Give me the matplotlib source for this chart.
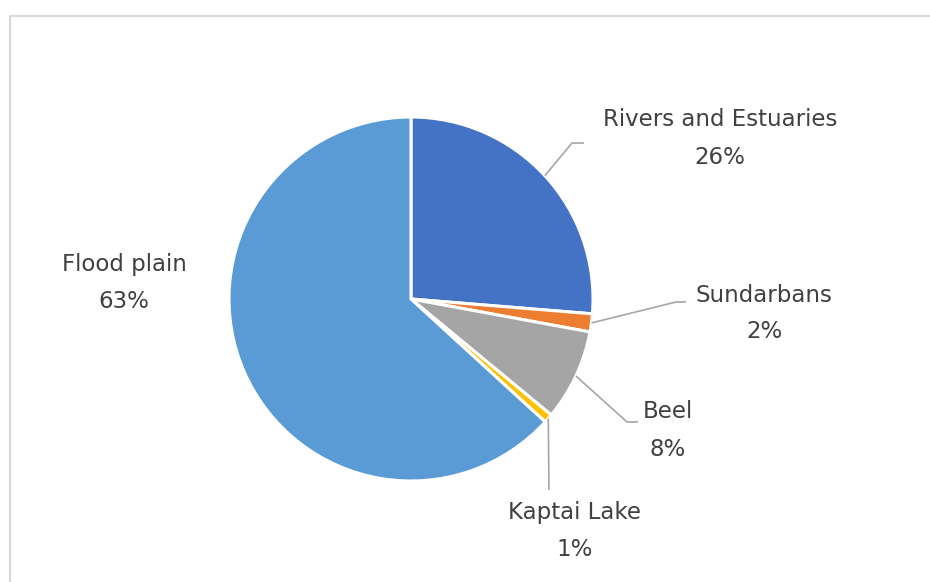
import numpy as np
import matplotlib.pyplot as plt

plt.rcParams['font.family'] = ['DejaVu Sans']

names = ['Rivers and Estuaries', 'Sundarbans', 'Beel', 'Kaptai Lake', 'Flood plain']
shares = [26.3, 1.6, 8.1, 0.8, 63.2]
colors = ['#4472C4', '#ED7D31', '#A5A5A5', '#FFC000', '#5B9BD5']

W, H = 930, 582
cx, cy, R = 411, 299, 182

# label placement in pixel coords (x of text centre, y of first line)
label_pos = [(720, 120), (764, 295), (668, 412), (575, 512), (124, 265)]
# leader line: elbow point and end point (None = no leader)
leaders = [((572, 143), (584, 143)),
           ((676, 302), (686, 302)),
           ((627, 422), (638, 422)),
           ((549, 490), (549, 490)),
           None]

fig = plt.figure(figsize=(W / 100, H / 100), dpi=100)
ax = fig.add_axes([0, 0, 1, 1])

ax.pie(shares, colors=colors, startangle=90, counterclock=False,
       center=(cx, H - cy), radius=R,
       wedgeprops=dict(edgecolor='white', linewidth=2.2), frame=True)
ax.set_xlim(0, W)
ax.set_ylim(0, H)
ax.set_aspect('equal')
ax.axis('off')

total = sum(shares)
start = 0.0
for name, v, (lx, ly), ld in zip(names, shares, label_pos, leaders):
    mid = (start + v / 2) / total * 360
    start += v
    if ld is not None:
        a = np.radians(90 - mid)
        x0, y0 = cx + R * np.cos(a), cy - R * np.sin(a)
        xs = [x0, ld[0][0], ld[1][0]]
        ys = [H - y0, H - ld[0][1], H - ld[1][1]]
        ax.plot(xs, ys, color='#A6A6A6', lw=1.2, solid_capstyle='butt')
    ax.text(lx, H - ly, name, ha='center', va='center', fontsize=16.5, color='#404040')
    ax.text(lx, H - ly - 37, f'{v / total * 100:.0f}%', ha='center', va='center',
            fontsize=16.5, color='#404040')

# chart area border
ax.plot([9.5, 9.5, W], [0, H - 15.5, H - 15.5], color='#D9D9D9', lw=1.5)

fig.savefig('out.png', dpi=100)
